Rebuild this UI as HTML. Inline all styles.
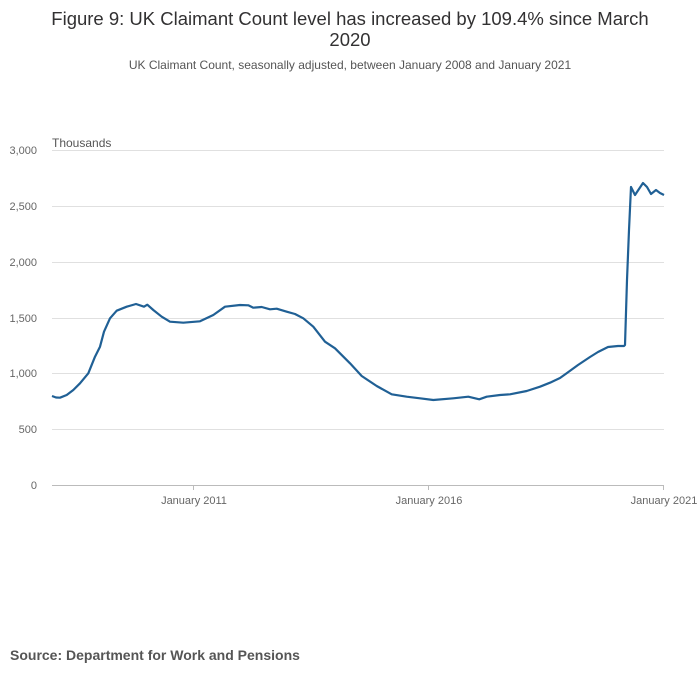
<!DOCTYPE html>
<html><head><meta charset="utf-8"><style>
body{margin:0;background:#fff;width:700px;height:682px;overflow:hidden;font-family:"Liberation Sans",sans-serif}
</style></head><body>
<svg width="700" height="682" xmlns="http://www.w3.org/2000/svg" font-family="Liberation Sans, sans-serif">
<text x="350" y="25" text-anchor="middle" font-size="18.5" fill="#323132">Figure 9: UK Claimant Count level has increased by 109.4% since March</text>
<text x="350" y="46" text-anchor="middle" font-size="18.5" fill="#323132">2020</text>
<text x="350" y="69" text-anchor="middle" font-size="12" fill="#555">UK Claimant Count, seasonally adjusted, between January 2008 and January 2021</text>
<g stroke="#e0e0e0" stroke-width="1">
<line x1="52" x2="664" y1="150.5" y2="150.5"/><line x1="52" x2="664" y1="206.5" y2="206.5"/>
<line x1="52" x2="664" y1="262.5" y2="262.5"/><line x1="52" x2="664" y1="318.5" y2="318.5"/>
<line x1="52" x2="664" y1="373.5" y2="373.5"/><line x1="52" x2="664" y1="429.5" y2="429.5"/>
</g>
<line x1="52" x2="664" y1="485.5" y2="485.5" stroke="#bbb"/>
<g stroke="#bbb"><line x1="193.5" x2="193.5" y1="485" y2="490"/><line x1="428.5" x2="428.5" y1="485" y2="490"/><line x1="663.5" x2="663.5" y1="485" y2="490"/></g>
<g font-size="11" fill="#666" text-anchor="end">
<text x="37" y="154">3,000</text><text x="37" y="210">2,500</text><text x="37" y="266">2,000</text>
<text x="37" y="322">1,500</text><text x="37" y="377">1,000</text><text x="37" y="433">500</text><text x="37" y="489">0</text>
</g>
<text x="52" y="147" font-size="12" fill="#555">Thousands</text>
<g font-size="11" fill="#666" text-anchor="middle">
<text x="194" y="504">January 2011</text><text x="429" y="504">January 2016</text><text x="664" y="504">January 2021</text>
</g>
<polyline fill="none" stroke="#206095" stroke-width="2.2" stroke-linejoin="round" points="52,396 56,397.5 60,397.7 66.7,395 73.3,390 80,383.3 88.3,373.3 95,356.7 100,346.7 104,331.7 110,318.3 116.7,310.7 126.7,306.7 136,304 144,306.7 147.3,304.7 153.3,310 161.7,316.7 170,321.7 183.3,322.7 200,321.3 213.3,315 225,306.7 240,305 248.3,305.3 253.3,307.7 261.7,307 270,309.3 276.7,308.7 286.7,311.7 295,314 303.3,318.3 313.3,326.7 325,341.7 335,348.3 350,363.3 361.7,376 376.7,386 391.7,394.3 406.7,396.7 420,398.3 433.3,400 453.3,398.3 468.3,396.7 479.3,399.3 486.7,396.7 500,395 510,394.3 526.7,391 540,386.7 550,382.7 560,378 567,373 578,365 590,357 598,352 608,347 618,346 624,346 625,345 627,280 629,230 631,187 635,195 639,189 643,183 647,187 651,194 656,190 660,193 664,195"/>
<text x="10" y="660" font-size="14" font-weight="bold" fill="#555">Source: Department for Work and Pensions</text>
</svg>
</body></html>
